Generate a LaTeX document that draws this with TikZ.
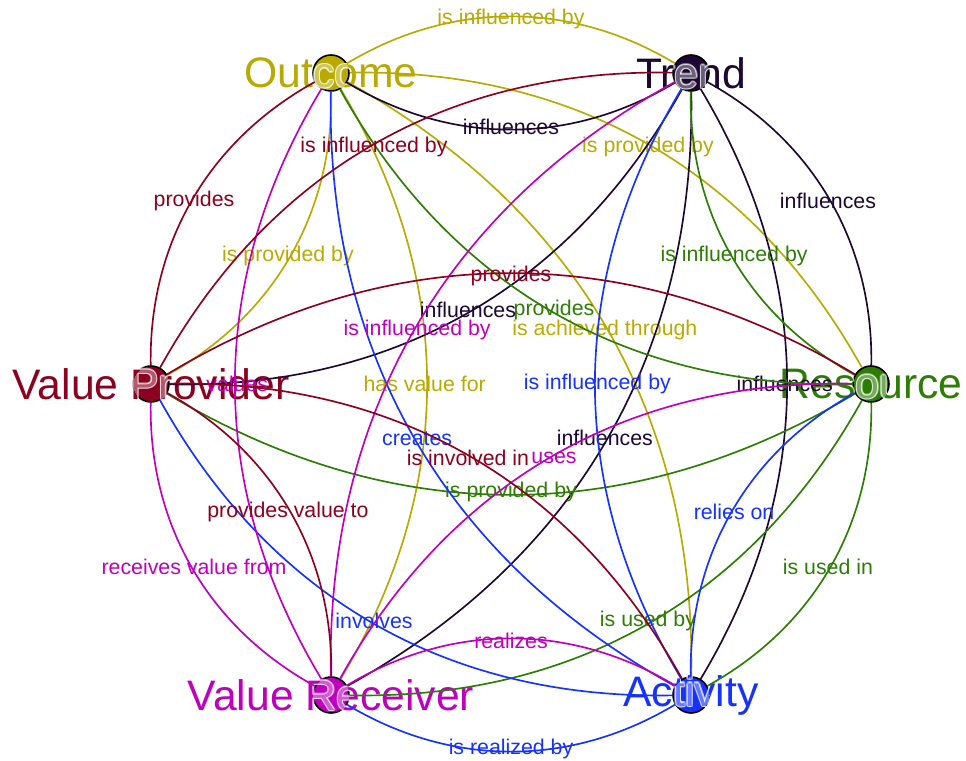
\documentclass[tikz,border=0pt]{standalone}
\usepackage{fontspec}
\setmainfont{Liberation Sans}
\definecolor{cO}{RGB}{184,170,0}
\definecolor{cT}{RGB}{28,8,50}
\definecolor{cR}{RGB}{45,125,5}
\definecolor{cA}{RGB}{22,50,255}
\definecolor{cVR}{RGB}{190,0,190}
\definecolor{cVP}{RGB}{140,0,32}
\pgfdeclarelayer{edgelayer}
\pgfsetlayers{main,edgelayer}
\newcommand\vtxtext[3]{%
  \foreach \hdx/\hdy [count=\hcnt] in {1.1/0,-1.1/0,0/1.1,0/-1.1,0.8/0.8,-0.8/0.8,0.8/-0.8,-0.8/-0.8}
    \node[nlab,white,opacity=0.5,xshift=\hdx pt,yshift=\hdy pt] (#1h\hcnt) at (#1) {#3};
  \node[nlab,text=#2] (#1t) at (#1) {#3};
  \begin{scope}
    \clip (#1.center) circle (13.5pt);
    \node[nlab,white,opacity=0.35] (#1g) at (#1) {#3};
  \end{scope}
}
\begin{document}
\begin{tikzpicture}[x=0.75pt,y=0.75pt,
  vtx/.style={circle,draw=black,line width=1.2pt,minimum size=27pt,inner sep=0pt},
  rel/.style={line width=1.25pt,bend left=31,shorten <=14pt,shorten >=14pt},
  elab/.style={font=\fontsize{16}{19}\selectfont,inner sep=0pt},
  nlab/.style={font=\fontsize{32}{38}\selectfont,inner sep=0pt},
]
\useasboundingbox (0,0) rectangle (966,760);
\node[vtx,fill=cO]  (O)  at (331,687) {};
\node[vtx,fill=cT]  (T)  at (691,687) {};
\node[vtx,fill=cR]  (R)  at (871,376) {};
\node[vtx,fill=cA]  (A)  at (691,65) {};
\node[vtx,fill=cVR] (VR) at (331,65) {};
\node[vtx,fill=cVP] (VP) at (151,376) {};

\vtxtext{O}{cO}{Outcome}
\vtxtext{T}{cT}{Trend}
\vtxtext{R}{cR}{Resource}
\vtxtext{A}{cA}{Activity}
\vtxtext{VR}{cVR}{Value Receiver}
\vtxtext{VP}{cVP}{Value Provider}

\begin{pgfonlayer}{edgelayer}
% Outcome
\draw[rel,cO] (O.center) to node[elab]{is influenced by} (T.center);
\draw[rel,cO] (O.center) to node[elab]{is provided by} (R.center);
\draw[rel,cO] (O.center) to node[elab]{is achieved through} (A.center);
\draw[rel,cO] (O.center) to node[elab]{has value for} (VR.center);
\draw[rel,cO] (O.center) to node[elab]{is provided by} (VP.center);
% Trend
\draw[rel,cT] (T.center) to node[elab]{influences} (O.center);
\draw[rel,cT] (T.center) to node[elab]{influences} (R.center);
\draw[rel,cT] (T.center) to node[elab]{influences} (A.center);
\draw[rel,cT] (T.center) to node[elab]{influences} (VR.center);
\draw[rel,cT] (T.center) to node[elab]{influences} (VP.center);
% Resource
\draw[rel,cR] (R.center) to node[elab]{is influenced by} (T.center);
\draw[rel,cR] (R.center) to node[elab]{provides} (O.center);
\draw[rel,cR] (R.center) to node[elab]{is provided by} (VP.center);
\draw[rel,cR] (R.center) to node[elab]{is used by} (VR.center);
\draw[rel,cR] (R.center) to node[elab]{is used in} (A.center);
% Activity
\draw[rel,cA] (A.center) to node[elab]{is influenced by} (T.center);
\draw[rel,cA] (A.center) to node[elab]{creates} (O.center);
\draw[rel,cA] (A.center) to node[elab]{involves} (VP.center);
\draw[rel,cA] (A.center) to node[elab]{is realized by} (VR.center);
\draw[rel,cA] (A.center) to node[elab]{relies on} (R.center);
% Value Receiver
\draw[rel,cVR] (VR.center) to node[elab]{receives value from} (VP.center);
\draw[rel,cVR] (VR.center) to node[elab]{values} (O.center);
\draw[rel,cVR] (VR.center) to node[elab]{is influenced by} (T.center);
\draw[rel,cVR] (VR.center) to node[elab]{uses} (R.center);
\draw[rel,cVR] (VR.center) to node[elab]{realizes} (A.center);
% Value Provider
\draw[rel,cVP] (VP.center) to node[elab]{provides} (O.center);
\draw[rel,cVP] (VP.center) to node[elab]{is influenced by} (T.center);
\draw[rel,cVP] (VP.center) to node[elab]{provides} (R.center);
\draw[rel,cVP] (VP.center) to node[elab]{is involved in} (A.center);
\draw[rel,cVP] (VP.center) to node[elab]{provides value to} (VR.center);
\end{pgfonlayer}
\end{tikzpicture}
\end{document}
